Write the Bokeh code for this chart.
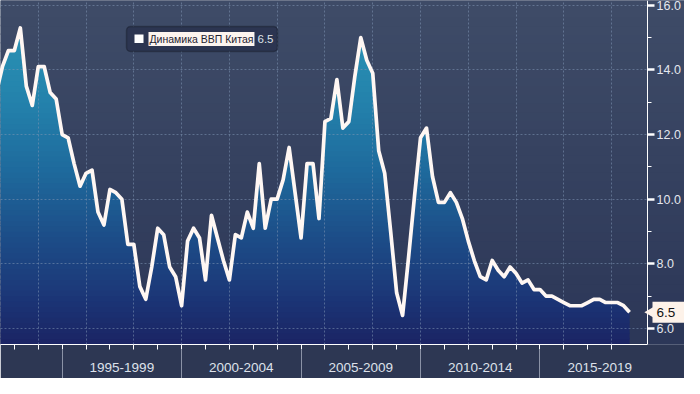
import numpy as np
from bokeh.plotting import figure
from bokeh.models import (Range1d, LinearAxis, FixedTicker, Grid, BoxAnnotation, Label,
                          PrintfTickFormatter)
from bokeh.embed import file_html
from bokeh.resources import INLINE

# ---------------- data ----------------
series_name = "Динамика ВВП Китая"
last_value_text = "6.5"
first_year = 1992
quarters = [f"{first_year + i // 4}Q{i % 4 + 1}" for i in range(107)]  # 1992Q1 .. 2018Q3
gdp_yoy = [
    13.3, 14.1, 14.6, 14.6,   # 1992
    15.3, 13.5, 12.9, 14.1,   # 1993
    14.1, 13.3, 13.1, 12.0,   # 1994
    11.9, 11.1, 10.4, 10.8,   # 1995
    10.9, 9.6, 9.2, 10.3,     # 1996
    10.2, 10.0, 8.6, 8.6,     # 1997
    7.3, 6.9, 7.9, 9.1,       # 1998
    8.9, 7.9, 7.6, 6.7,       # 1999
    8.7, 9.1, 8.8, 7.5,       # 2000
    9.5, 8.8, 8.1, 7.5,       # 2001
    8.9, 8.8, 9.6, 9.1,       # 2002
    11.1, 9.1, 10.0, 10.0,    # 2003
    10.6, 11.6, 10.2, 8.8,    # 2004
    11.1, 11.1, 9.4, 12.4,    # 2005
    12.5, 13.7, 12.2, 12.4,   # 2006
    13.8, 15.0, 14.3, 13.9,   # 2007
    11.5, 10.8, 9.0, 7.1,     # 2008
    6.4, 8.2, 10.1, 11.9,     # 2009
    12.2, 10.7, 9.9, 9.9,     # 2010
    10.2, 9.9, 9.4, 8.7,      # 2011
    8.1, 7.6, 7.5, 8.1,       # 2012
    7.8, 7.6, 7.9, 7.7,       # 2013
    7.4, 7.5, 7.2, 7.2,       # 2014
    7.0, 7.0, 6.9, 6.8,       # 2015
    6.7, 6.7, 6.7, 6.8,       # 2016
    6.9, 6.9, 6.8, 6.8,       # 2017
    6.8, 6.7, 6.5,            # 2018
]
y_ticks = [6, 8, 10, 12, 14, 16]
y_minor_ticks = [7, 9, 11, 13, 15]
year_ticks = list(range(1993, 2019))
grid_years = list(range(1994, 2019, 2))
group_bounds = [1995, 2000, 2005, 2010, 2015]
group_centers = [1997.5, 2002.5, 2007.5, 2012.5, 2017.5]
group_labels = ["1995-1999", "2000-2004", "2005-2009", "2010-2014", "2015-2019"]

# quarter-end positions
t = np.array([int(q[:4]) + int(q[-1]) / 4.0 for q in quarters])
v = np.array(gdp_yoy, dtype=float)

W, H = 684, 378
AXIS_PX = 647                     # x pixel of the value axis inside the frame
FRAME_H = 344
X0, X1 = 1992.42, 2019.5          # X1 = position of the value axis
X_END = X0 + (X1 - X0) * W / AXIS_PX
PX = (X1 - X0) / AXIS_PX          # data units per pixel along x
Y0, Y1 = 5.5, 16.15
PY = (Y1 - Y0) / FRAME_H          # data units per pixel along y
FONT = "Liberation Sans"
CALLOUT_BG = "#fdf2e9"

p = figure(width=W, height=H,
           x_range=Range1d(X0, X_END), y_range=Range1d(Y0, Y1),
           x_axis_type=None, y_axis_type=None,
           toolbar_location=None, output_backend="svg",
           min_border_left=0, min_border_top=0, min_border_right=0, min_border_bottom=34,
           background_fill_color="#37435f", border_fill_color="#2d3753",
           outline_line_color=None)


def interp_color(val, stops):
    vals = [s[0] for s in stops]
    r = np.interp(val, vals, [s[1][0] for s in stops])
    g = np.interp(val, vals, [s[1][1] for s in stops])
    b = np.interp(val, vals, [s[1][2] for s in stops])
    return "#%02x%02x%02x" % (int(r), int(g), int(b))


bg_stops = [(5.5, (44, 55, 88)), (11.0, (54, 66, 96)), (16.15, (63, 76, 104))]
area_stops = [(5.5, (27, 36, 100)), (7.0, (28, 55, 120)), (9.0, (29, 80, 138)),
              (11.0, (31, 108, 158)), (13.0, (36, 130, 172)), (15.0, (42, 145, 180)),
              (16.15, (45, 152, 186))]

# background gradient
bg_levels = np.linspace(Y0, Y1, 41)
for lo, hi in zip(bg_levels[:-1], bg_levels[1:]):
    p.add_layout(BoxAnnotation(bottom=lo, top=hi + 0.05, fill_color=interp_color((lo + hi) / 2, bg_stops),
                               fill_alpha=1.0, line_color=None, level="image"))

# area gradient (horizontal bands clipped to the series)
levels = np.linspace(Y0, Y1, 65)
for lo, hi in zip(levels[:-1], levels[1:]):
    p.varea(x=t, y1=np.minimum(v, lo), y2=np.minimum(v, hi + 0.04),
            fill_color=interp_color((lo + hi) / 2, area_stops), fill_alpha=1.0, level="underlay")

# grids
p.add_layout(Grid(dimension=0, ticker=FixedTicker(ticks=grid_years), grid_line_color="#8096b5",
                  grid_line_alpha=0.55, grid_line_dash="2 2", grid_line_width=1, level="guide"))
p.add_layout(Grid(dimension=1, ticker=FixedTicker(ticks=y_ticks), cross_bounds=(X0, X1),
                  grid_line_color="#8096b5", grid_line_alpha=0.55, grid_line_dash="2 2",
                  grid_line_width=1, level="guide"))

# series line
p.line(t, v, line_color="#fff7f3", line_width=3.7, line_join="round", level="overlay")

# value axis drawn at X1 inside the frame
yaxis = LinearAxis(ticker=FixedTicker(ticks=y_ticks, minor_ticks=y_minor_ticks),
                   formatter=PrintfTickFormatter(format="%.1f"), fixed_location=X1)
yaxis.axis_line_color = "white"
yaxis.axis_line_width = 1
yaxis.major_tick_out = 7
yaxis.major_tick_in = 0
yaxis.major_tick_line_color = "white"
yaxis.major_tick_line_width = 2.5
yaxis.minor_tick_out = 4
yaxis.minor_tick_in = 0
yaxis.minor_tick_line_color = "white"
yaxis.major_label_standoff = 2
yaxis.major_label_text_color = "#e4e7ee"
yaxis.major_label_text_font = FONT
yaxis.major_label_text_font_size = "12.5px"
p.add_layout(yaxis, "right")

# bottom axis 1: yearly ticks
xaxis1 = LinearAxis(ticker=FixedTicker(ticks=year_ticks, minor_ticks=[]), bounds=(X0, X1))
xaxis1.axis_line_color = "white"
xaxis1.axis_line_width = 1
xaxis1.major_tick_out = 5
xaxis1.major_tick_in = 0
xaxis1.major_tick_line_color = "white"
xaxis1.major_label_overrides = {yr: "" for yr in year_ticks}
xaxis1.major_label_standoff = 0
xaxis1.major_label_text_font_size = "1px"
p.add_layout(xaxis1, "below")

# bottom axis 2: group separators and group labels
xaxis2 = LinearAxis(ticker=FixedTicker(ticks=group_centers, minor_ticks=group_bounds))
xaxis2.axis_line_color = None
xaxis2.major_tick_line_color = None
xaxis2.major_tick_out = 0
xaxis2.major_tick_in = 0
xaxis2.minor_tick_out = 32
xaxis2.minor_tick_in = 0
xaxis2.minor_tick_line_color = "#8a92a6"
xaxis2.minor_tick_line_width = 1
xaxis2.major_label_overrides = {c: lab for c, lab in zip(group_centers, group_labels)}
xaxis2.major_label_standoff = -19
xaxis2.major_label_text_color = "#dde1ea"
xaxis2.major_label_text_font = FONT
xaxis2.major_label_text_font_size = "13.5px"
p.add_layout(xaxis2, "below")

# legend-like box (screen units, relative to frame, y upward)
p.add_layout(BoxAnnotation(left=126, right=277, bottom=293, top=318,
                           left_units="screen", right_units="screen",
                           bottom_units="screen", top_units="screen",
                           fill_color="#2c3551", fill_alpha=1.0,
                           line_color="#0b0d14", line_width=1.5, border_radius=4))
p.add_layout(BoxAnnotation(left=134, right=143, bottom=301.5, top=310,
                           left_units="screen", right_units="screen",
                           bottom_units="screen", top_units="screen",
                           fill_color="#ffffff", fill_alpha=1.0, line_color=None))
p.add_layout(Label(x=148, y=305.5, x_units="screen", y_units="screen", text=series_name,
                   text_font=FONT, text_font_size="10.5px", text_color="#1e2230",
                   text_baseline="middle", text_align="left",
                   background_fill_color="#fcf4ef", background_fill_alpha=1.0, padding=1))
p.add_layout(Label(x=257, y=305.5, x_units="screen", y_units="screen", text=last_value_text,
                   text_font=FONT, text_font_size="11.5px", text_color="#dfe3ea",
                   text_baseline="middle", text_align="left"))

# last value callout at the value axis (arrow + box reaching the right edge)
last = gdp_yoy[-1]
p.add_layout(BoxAnnotation(left=X1 + 5 * PX, bottom=last - 10.5 * PY, top=last + 10.5 * PY,
                           fill_color=CALLOUT_BG, fill_alpha=1.0, line_color=None))
p.scatter(x=[X1 + 3.2 * PX], y=[last], marker="triangle", angle=np.pi / 2, size=11,
          fill_color=CALLOUT_BG, line_color=None, level="overlay")
p.add_layout(Label(x=X1, y=last, x_offset=9, text=last_value_text,
                   text_font=FONT, text_font_size="13.5px", text_color="#111111",
                   text_baseline="middle", text_align="left"))

open("out.html", "w").write(file_html(p, INLINE))
